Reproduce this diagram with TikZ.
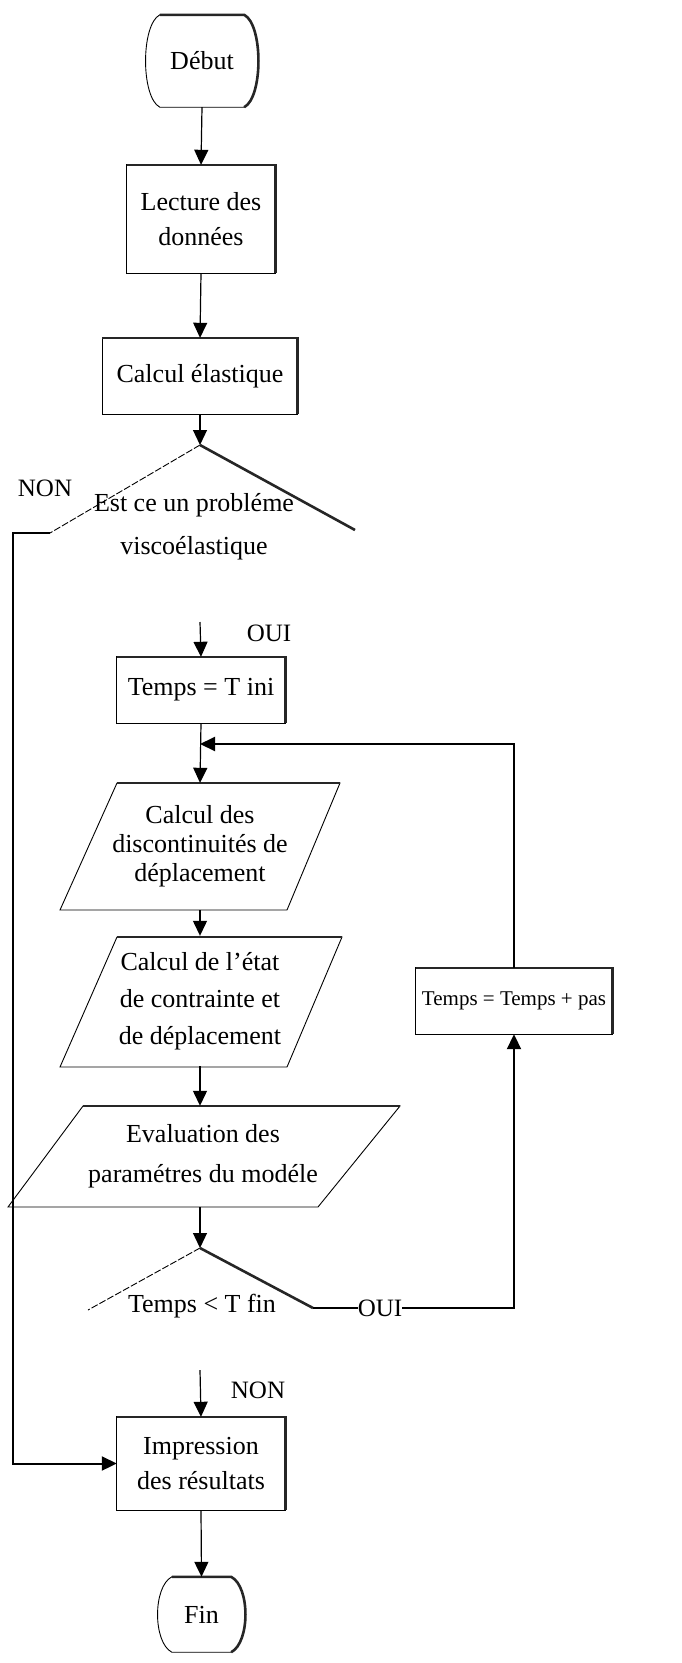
\documentclass[tikz,border=0pt]{standalone}
\usepackage{fontspec}
\setmainfont{Liberation Serif}
\usetikzlibrary{arrows.meta,calc}
\begin{document}
\begin{tikzpicture}[x=1pt,y=-1pt,
  every node/.style={font=\fontsize{26}{35}\selectfont, align=center, inner sep=0pt},
  shp/.style={line width=0.9pt},
  thin dash/.style={line width=0.9pt, dash pattern=on 7pt off 2pt},
  heavy/.style={line width=2.6pt, black!85},
  con/.style={line width=1.2pt},
  arr/.style={con,-{Triangle[length=15pt,width=14pt]}},
  hv/.style={line width=2pt},
  lbl/.style={font=\fontsize{25}{30}\selectfont}
]
\useasboundingbox (0,0) rectangle (681,1663);

% ---------- nodes ----------
\node[minimum width=112pt, minimum height=92pt] (deb) at (202,61) {Début};
\node[minimum width=148pt, minimum height=108pt] (lec) at (201,219) {Lecture des\\données};
\node[minimum width=195pt, minimum height=76pt] (cal) at (200,376) {Calcul élastique};
\coordinate (d1top) at (200,445);
\coordinate (d1l) at (50,533);
\coordinate (d1r) at (355,530);
\node[font=\fontsize{26}{43}\selectfont] (d1) at (194,527) {Est ce un probléme\\viscoélastique};
\node[lbl] (non1) at (45,488) {NON};
\coordinate (lft) at (13,533);

\coordinate (oui1start) at (200,622);
\node[lbl] (oui1) at (269,633) {OUI};
\node[minimum width=168pt, minimum height=66pt] (tini) at (201,690) {Temps = T ini};
\coordinate (join) at (200,744);

\node[minimum height=127pt, font=\fontsize{26}{29}\selectfont] (disc) at (200,846.5) {Calcul des\\discontinuités de\\déplacement};
\node[minimum height=130pt, font=\fontsize{26}{37}\selectfont] (etat) at (200,1001) {Calcul de l'état\\de contrainte et\\de déplacement};
\node[minimum height=101pt, font=\fontsize{26}{40}\selectfont] (eval) at (203,1156.5) {Evaluation des\\paramétres du modéle};

\coordinate (d2top) at (200,1248);
\coordinate (d2l) at (88,1310);
\coordinate (d2r) at (313,1308);
\node (d2) at (202,1306) {Temps < T fin};
\node[lbl] (oui2) at (380,1308) {OUI};
\node[minimum width=196pt, minimum height=66pt, font=\fontsize{21}{26}\selectfont] (tpas) at (514,1001) {Temps = Temps + pas};

\coordinate (non2start) at (200,1370);
\node[lbl] (non2) at (258,1390) {NON};
\node[minimum width=168pt, minimum height=93pt] (imp) at (201,1463.5) {Impression\\des résultats};
\node[minimum width=87pt, minimum height=75pt] (fin) at (201.5,1614.5) {Fin};

% ---------- outlines ----------
% Début / Fin barrels
\foreach \n in {deb,fin}{
  \draw[shp] ($(\n.north west)+(14,0)$) -- ($(\n.north east)+(-14,0)$)
     .. controls ($(\n.north east)+(5,10)$) and ($(\n.south east)+(5,-10)$) .. ($(\n.south east)+(-14,0)$)
     -- ($(\n.south west)+(14,0)$)
     .. controls ($(\n.south west)+(-5,-10)$) and ($(\n.north west)+(-5,10)$) .. cycle;
  \draw[heavy] ($(\n.north west)+(14,0)$) -- ($(\n.north east)+(-14,0)$)
     .. controls ($(\n.north east)+(5,10)$) and ($(\n.south east)+(5,-10)$) .. ($(\n.south east)+(-14,0)$);
}
% rectangles
\foreach \n in {lec,cal,tini,tpas,imp}{
  \draw[shp] (\n.north west) rectangle (\n.south east);
  \draw[heavy] (\n.north west) -- (\n.north east) -- (\n.south east);
}
% parallelograms
\draw[shp] (117,783) -- (340,783) -- (287,910) -- (60,910) -- cycle;
\draw[heavy] (117,783) -- (340,783);
\draw[shp] (117,937) -- (342,937) -- (287,1067) -- (60,1067) -- cycle;
\draw[heavy] (117,937) -- (342,937);
\draw[shp] (83,1106) -- (400,1106) -- (318,1207) -- (8,1207) -- cycle;
\draw[heavy] (83,1106) -- (400,1106);
% decisions
\draw[thin dash] (d1top) -- (d1l);
\draw[heavy] (d1top) -- (d1r);
\draw[thin dash] (d2top) -- (d2l);
\draw[heavy] (d2top) -- (d2r);

% ---------- connectors ----------
\draw[arr] (deb.south) -- (lec.north);
\draw[arr] (lec.south) -- (cal.north);
\draw[arr] (cal.south) -- (d1top);
\draw[hv,-{Triangle[length=15pt,width=14pt]}] (d1l) -- (lft) |- (imp.west);
\draw[arr] (oui1start) -- (tini.north);
\draw[arr] (tini.south) -- (disc.north);
\draw[arr] (disc.south) -- (etat.north);
\draw[arr] (etat.south) -- (eval.north -| disc.north);
\draw[arr] (eval.south -| disc.north) -- (d2top);
\draw[con] (d2r) -- (oui2.west);
\draw[hv,-{Triangle[length=15pt,width=14pt]}] (oui2.east) -| (tpas.south);
\draw[hv,-{Triangle[length=15pt,width=14pt]}] (tpas.north) |- (join);
\draw[arr] (non2start) -- (imp.north);
\draw[arr] (imp.south) -- (fin.north);
\end{tikzpicture}
\end{document}
